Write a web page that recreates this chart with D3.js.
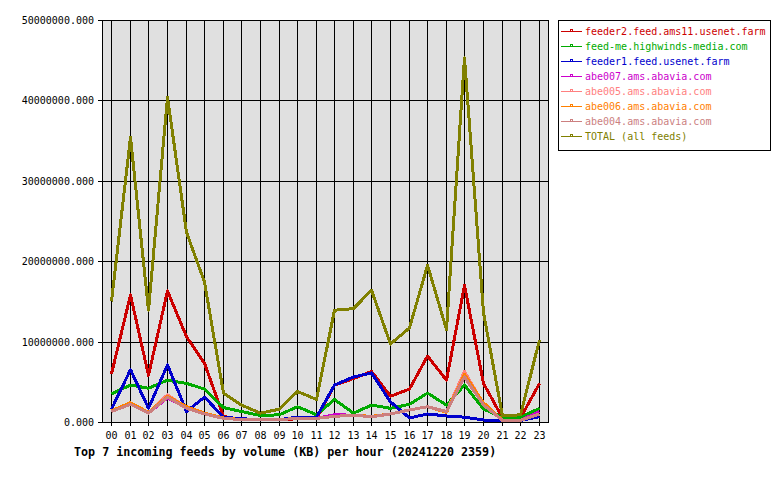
<!DOCTYPE html>
<html>
<head>
<meta charset="utf-8">
<script src="https://cdn.jsdelivr.net/npm/d3@7"></script>
<style>
  body { margin: 0; background: #fff; }
  text { font-family: "DejaVu Sans Mono", "Liberation Mono", monospace; }
</style>
</head>
<body>
<div id="chart"></div>
<script>
// hours on the x axis
var hours = ["00","01","02","03","04","05","06","07","08","09","10","11",
             "12","13","14","15","16","17","18","19","20","21","22","23"];

var yTicks = [0, 10000000, 20000000, 30000000, 40000000, 50000000];

var feedNames = [
  "feeder2.feed.ams11.usenet.farm",
  "feed-me.highwinds-media.com",
  "feeder1.feed.usenet.farm",
  "abe007.ams.abavia.com",
  "abe005.ams.abavia.com",
  "abe006.ams.abavia.com",
  "abe004.ams.abavia.com",
  "TOTAL (all feeds)"
];
var feedColors = ["#cc0000", "#00aa00", "#0000cc", "#cc00cc", "#ff8080", "#ff8000", "#cc7f7f", "#808000"];

// values in millions of KB
var feeder2 = [6.0, 15.8, 5.8, 16.3, 10.6, 7.3, 0.7, 0.3, 0.3, 0.3, 0.4, 0.4,
               4.6, 5.4, 6.3, 3.2, 4.1, 8.2, 5.2, 17.0, 4.8, 0.5, 0.5, 4.8];
var feedme  = [3.5, 4.6, 4.2, 5.2, 4.8, 4.1, 1.8, 1.3, 0.8, 0.9, 1.9, 0.9,
               2.8, 1.1, 2.1, 1.7, 2.2, 3.6, 2.1, 4.6, 1.6, 0.6, 0.6, 1.7];
var feeder1 = [1.6, 6.5, 1.7, 7.1, 1.3, 3.1, 0.6, 0.4, 0.3, 0.3, 0.6, 0.6,
               4.6, 5.6, 6.1, 2.5, 0.5, 1.0, 0.75, 0.6, 0.25, 0.2, 0.2, 0.65];
var abe007  = [1.3, 2.2, 1.1, 3.0, 1.8, 1.0, 0.45, 0.3, 0.25, 0.3, 0.45, 0.45,
               0.9, 0.85, 0.65, 1.0, 1.5, 1.9, 1.3, 5.6, 2.1, 0.2, 0.2, 1.3];
var abe005  = [1.4, 2.3, 1.1, 3.4, 1.8, 1.0, 0.45, 0.3, 0.25, 0.3, 0.45, 0.45,
               0.7, 0.85, 0.65, 1.0, 1.5, 1.9, 1.3, 6.3, 2.2, 0.2, 0.2, 1.0];
var abe006  = [1.4, 2.4, 1.2, 3.2, 1.9, 1.1, 0.5, 0.3, 0.25, 0.3, 0.45, 0.45,
               0.7, 0.85, 0.7, 1.0, 1.5, 1.9, 1.2, 5.9, 2.4, 0.2, 0.2, 1.0];
var abe004  = [1.3, 2.2, 1.1, 3.1, 1.7, 1.0, 0.45, 0.3, 0.25, 0.3, 0.45, 0.45,
               0.7, 0.85, 0.65, 1.0, 1.5, 1.9, 1.3, 5.6, 2.1, 0.2, 0.2, 1.0];
var total   = [15.0, 35.4, 13.9, 40.4, 23.6, 17.4, 3.6, 2.1, 1.1, 1.6, 3.8, 2.8,
               13.9, 14.1, 16.4, 9.7, 11.7, 19.5, 11.5, 45.3, 13.6, 0.75, 0.9, 10.2];

var series = [feeder2, feedme, feeder1, abe007, abe005, abe006, abe004, total];

var W = 780, H = 480;
var plot = {left: 102, top: 20, right: 548, bottom: 422};

var svg = d3.select("#chart").append("svg")
    .attr("width", W)
    .attr("height", H);

var x = d3.scaleBand()
    .domain(hours)
    .range([plot.left, plot.right]);
function xc(h) { return Math.round(x(h) + x.bandwidth() / 2) + 0.5; }

var y = d3.scaleLinear()
    .domain([0, 50000000])
    .range([plot.bottom, plot.top]);

// plot background
svg.append("rect")
  .attr("x", plot.left).attr("y", plot.top)
  .attr("width", plot.right - plot.left)
  .attr("height", plot.bottom - plot.top)
  .attr("fill", "#e0e0e0");

// grid
svg.append("g").selectAll("line")
  .data(hours)
  .enter().append("line")
    .attr("x1", xc).attr("x2", xc)
    .attr("y1", plot.top).attr("y2", plot.bottom + 4)
    .attr("stroke", "#000")
    .attr("shape-rendering", "crispEdges");

svg.append("g").selectAll("line")
  .data(yTicks)
  .enter().append("line")
    .attr("x1", plot.left - 4).attr("x2", plot.right)
    .attr("y1", function(d) { return Math.round(y(d)) + 0.5; })
    .attr("y2", function(d) { return Math.round(y(d)) + 0.5; })
    .attr("stroke", "#000")
    .attr("shape-rendering", "crispEdges");

// frame
svg.append("rect")
  .attr("x", plot.left + 0.5).attr("y", plot.top + 0.5)
  .attr("width", plot.right - plot.left)
  .attr("height", plot.bottom - plot.top)
  .attr("fill", "none")
  .attr("stroke", "#000")
  .attr("shape-rendering", "crispEdges");

// y labels
svg.append("g").selectAll("text")
  .data(yTicks)
  .enter().append("text")
    .attr("x", plot.left - 8)
    .attr("y", function(d) { return y(d) + 4; })
    .attr("text-anchor", "end")
    .attr("font-size", "10px")
    .text(function(d) { return d3.format(".3f")(d); });

// x labels
svg.append("g").selectAll("text")
  .data(hours)
  .enter().append("text")
    .attr("x", xc)
    .attr("y", 439)
    .attr("text-anchor", "middle")
    .attr("font-size", "10px")
    .text(function(d) { return d; });

// lines
var line = d3.line()
    .x(function(d, i) { return xc(hours[i]); })
    .y(function(d) { return y(d * 1000000); });

svg.append("g").selectAll("path")
  .data(series)
  .enter().append("path")
    .attr("d", line)
    .attr("fill", "none")
    .attr("stroke", function(d, i) { return feedColors[i]; })
    .attr("stroke-width", 3)
    .attr("stroke-linejoin", "round")
    .attr("shape-rendering", "crispEdges");

// title
svg.append("text")
  .attr("x", 74)
  .attr("y", 456)
  .attr("font-size", "11.7px")
  .attr("font-weight", "bold")
  .text("Top 7 incoming feeds by volume (KB) per hour (20241220 2359)");

// legend
var legend = svg.append("g");
legend.append("rect")
  .attr("x", 558.5).attr("y", 20.5)
  .attr("width", 212).attr("height", 130)
  .attr("fill", "#fff")
  .attr("stroke", "#000")
  .attr("shape-rendering", "crispEdges");

var items = legend.selectAll("g.item")
  .data(feedNames)
  .enter().append("g")
    .attr("class", "item")
    .attr("transform", function(d, i) { return "translate(0," + (31 + i * 15) + ")"; });

items.append("line")
  .attr("x1", 561).attr("x2", 582)
  .attr("y1", 0.5).attr("y2", 0.5)
  .attr("stroke", function(d, i) { return feedColors[i]; })
  .attr("shape-rendering", "crispEdges");

items.append("rect")
  .attr("x", 570.5).attr("y", -1.5)
  .attr("width", 2).attr("height", 2)
  .attr("fill", "none")
  .attr("stroke", function(d, i) { return feedColors[i]; })
  .attr("shape-rendering", "crispEdges");

items.append("text")
  .attr("x", 585)
  .attr("y", 4)
  .attr("font-size", "10px")
  .attr("fill", function(d, i) { return feedColors[i]; })
  .text(function(d) { return d; });
</script>
</body>
</html>
